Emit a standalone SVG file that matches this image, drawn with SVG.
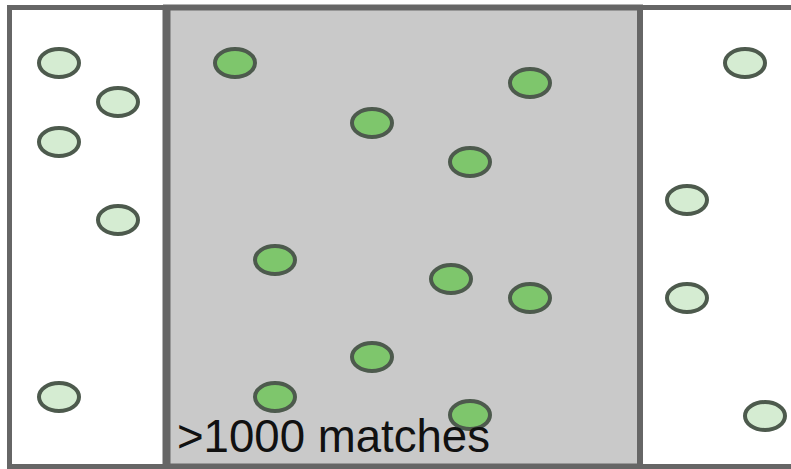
<svg xmlns="http://www.w3.org/2000/svg" width="791" height="469" viewBox="0 0 791 469">
<style>
.lt{fill:#d5ecd2;stroke:#4d5a4d;stroke-width:4}
.dk{fill:#7ec66c;stroke:#4d5a4d;stroke-width:4}
.frame{fill:none;stroke:#666;stroke-width:5}
</style>
<rect x="0" y="0" width="791" height="469" fill="#fff"/>
<g id="middle">
<rect x="166" y="7.5" width="474" height="459" fill="#c9c9c9" stroke="#666" stroke-width="6"/>
<line x1="166.5" y1="7.5" x2="166.5" y2="466.5" stroke="#666" stroke-width="8"/>
</g>
<rect class="frame" x="9.5" y="7.5" width="800" height="459"/>
<g id="left">
<ellipse class="lt" cx="59" cy="63" rx="20" ry="14"/>
<ellipse class="lt" cx="118" cy="102" rx="20" ry="14"/>
<ellipse class="lt" cx="59" cy="142" rx="20" ry="14"/>
<ellipse class="lt" cx="118" cy="220" rx="20" ry="14"/>
<ellipse class="lt" cx="59" cy="397" rx="20" ry="14"/>
</g>
<g id="center">
<ellipse class="dk" cx="235" cy="63" rx="20" ry="14"/>
<ellipse class="dk" cx="530" cy="83" rx="20" ry="14"/>
<ellipse class="dk" cx="372" cy="123" rx="20" ry="14"/>
<ellipse class="dk" cx="470" cy="162" rx="20" ry="14"/>
<ellipse class="dk" cx="275" cy="260" rx="20" ry="14"/>
<ellipse class="dk" cx="451" cy="279" rx="20" ry="14"/>
<ellipse class="dk" cx="530" cy="298" rx="20" ry="14"/>
<ellipse class="dk" cx="372" cy="357" rx="20" ry="14"/>
<ellipse class="dk" cx="275" cy="397" rx="20" ry="14"/>
<ellipse class="dk" cx="470" cy="415" rx="20" ry="14"/>
</g>
<g id="right">
<ellipse class="lt" cx="745" cy="63" rx="20" ry="14"/>
<ellipse class="lt" cx="687" cy="200" rx="20" ry="14"/>
<ellipse class="lt" cx="687" cy="298" rx="20" ry="14"/>
<ellipse class="lt" cx="765" cy="416" rx="20" ry="14"/>
</g>
<g id="label">
<text x="177" y="452" font-family="Liberation Sans, Arial, sans-serif" font-size="46" fill="#111" textLength="313" lengthAdjust="spacingAndGlyphs">&gt;1000 matches</text>
</g>
</svg>
